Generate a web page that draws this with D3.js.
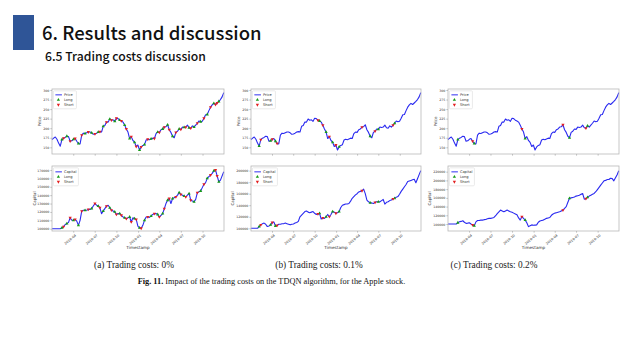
<!DOCTYPE html>
<html>
<head>
<meta charset="utf-8">
<script src="https://cdn.jsdelivr.net/npm/d3@7"></script>
<style>
  body { margin: 0; background: #fff; }
</style>
</head>
<body>
<div id="chart"></div>
<script>
// weekly Apple close, first week 2018-01-01
const price = [
  170,174,177,171,161,153,170,174,176,179,
  178,166,167,171,173,166,160,159,182,187,
  186,188,190,190,188,184,185,187,190,191,
  190,205,207,216,216,224,221,222,218,226,
  225,221,219,216,208,198,190,173,178,168,
  163,152,156,143,151,155,157,169,171,170,
  172,174,173,186,190,189,196,198,203,204,
  209,196,189,179,175,189,192,198,197,203,
  202,203,208,201,200,206,203,208,213,219,
  217,218,226,235,236,246,255,261,265,262,
  266,270,275,282,293
];

// capital, in thousands
const capitalA = [
  100,100,100,100,100,100,101,102.5,105,106,
  107.5,113,110,110,111,109,104,110,121,122,
  122,122,123,123,124,127,130,128,127,125,
  118,121,124,127,128,125,122,121,120,117,
  118,118,116,114,113,112,113,114,108,113,
  112,111,103,101,100.5,104,110,114,114,113.5,
  115,117,118,118,117,114,116,118,124,130,
  134,136,130,136,137,138,140,143,141,140,
  139,138,140,142,134,133,132,135,143,144,
  145,149,153,155,160,162,164,166,169,170,
  163,156,158,163,168
];
const capitalB = [
  100,100,100,100,100,103,106,108,109,107,
  103,104,106,110,111,104,105,107,107,108,
  108,109,108,107,106,107,107.5,109,110,112,
  120,123,126,129,130,128,127,128,129,126,
  124,125,126,116,118,117,120,124,120,124,
  129,128,126,127,129,136,140,141,142,142,
  143,147,152,155,158,160,163,164,165,168,
  160,149,146,144,144,143,145,146,146,146,
  148,150,142,145,146,148,149,151,152,154,
  155,159,164,168,172,176,181,182,183,184,
  185,179,186,193,200
];
const capitalC = [
  100,100,100,100,100,100,103,105,106,107.5,
  104,101.5,102,103,100,98,96,105,108,108,
  109,109,110,110.5,112,113,113,114,115,119,
  124,128,132,130,128,130,132,130,128,127,
  125,123,121,114,109,117,113,109,103,94,
  96,98,97,97.5,98,104,107,108,109,111,
  113,114,115,120,123,125,126,127,128,130,
  132,136,140,150,159,160,161,162,164,165,
  166,168,170,157,158,161,164,166,168,170,
  174,179,184,189,194,199,200,202,202,205,
  204,199,206,213,222
];

// week indices of long / short actions
const longA  = [6,9,13,16,20,24,28,31,35,38,41,44,47,50,53,56,60,64,67,70,73,77,80,83,86,90,94,98,101];
const shortA = [7,11,14,18,22,26,29,33,36,39,42,45,48,51,54,58,62,65,68,71,75,78,81,84,88,92,96,99,100];
const longB  = [5,12,15,42,46,50,54,73,78,88];
const shortB = [6,13,16,41,44,48,52,68,76,87];
const longC  = [6,16,47,74,85];
const shortC = [15,45,70,84];

const xTickLabels = ["2018-04","2018-07","2018-10","2019-01","2019-04","2019-07","2019-10"];
const priceTicks = [150,175,200,225,250,275,300];
const capTicksA = [100000,110000,120000,130000,140000,150000,160000,170000];
const capTicksB = [100000,120000,140000,160000,180000,200000];
const capTicksC = [100000,120000,140000,160000,180000,200000,220000];
const captions = ["(a) Trading costs: 0%", "(b) Trading costs: 0.1%", "(c) Trading costs: 0.2%"];

const W = 640, H = 360;
const svg = d3.select("#chart").append("svg")
  .attr("width", W).attr("height", H)
  .style("font-family", "'Noto Sans CJK KR', 'Noto Sans', sans-serif");

// header
svg.append("rect").attr("x", 13).attr("y", 15).attr("width", 21).attr("height", 35).attr("fill", "#2f5597");
svg.append("text").attr("x", 42).attr("y", 39.5)
  .attr("font-size", 18.5).attr("font-weight", 500).attr("fill", "#111")
  .text("6. Results and discussion");
svg.append("text").attr("x", 45).attr("y", 60.5)
  .attr("font-size", 12.2).attr("font-weight", 500).attr("fill", "#111")
  .text("6.5 Trading costs discussion");

const start = new Date(2018, 0, 1);
const dates = price.map((d, i) => d3.timeDay.offset(start, 7 * i));
const xDomain = [start, new Date(2019, 11, 31)];
const xTickDates = xTickLabels.map(s => d3.timeParse("%Y-%m")(s));

const panels = [
  {x0: 52,  x1: 224, cap: capitalA, long: longA, short: shortA, capTicks: capTicksA, capDomain: [97250, 174800], capLabelDx: 16},
  {x0: 251, x1: 421, cap: capitalB, long: longB, short: shortB, capTicks: capTicksB, capDomain: [95300, 208000], capLabelDx: 17},
  {x0: 448, x1: 619, cap: capitalC, long: longC, short: shortC, capTicks: capTicksC, capDomain: [84000, 233000], capLabelDx: 17}
];

const lineColor = "#2a2af0";
const greenC = "#169a16", redC = "#e32020";
const tickFont = 3.2;

function drawChart(p, top, bottom, values, yDomain, yTicks, yLabel, labelDx, legendName, showX) {
  const x = d3.scaleTime().domain(xDomain).range([p.x0, p.x1]);
  const y = d3.scaleLinear().domain(yDomain).range([bottom, top]);
  const g = svg.append("g");

  // y axis
  const ya = g.append("g").attr("transform", `translate(${p.x0},0)`)
    .call(d3.axisLeft(y).tickValues(yTicks).tickSize(1.6).tickPadding(1).tickFormat(d3.format("d")));
  ya.select(".domain").remove();
  ya.selectAll("line").attr("stroke", "#555").attr("stroke-width", 0.4);
  ya.selectAll("text").attr("font-size", tickFont).attr("fill", "#333").attr("font-family", "'DejaVu Sans', sans-serif");

  // x axis
  const xa = g.append("g").attr("transform", `translate(0,${bottom})`)
    .call(d3.axisBottom(x).tickValues(xTickDates).tickSize(1.6).tickFormat(showX ? d3.timeFormat("%Y-%m") : ""));
  xa.select(".domain").remove();
  xa.selectAll("line").attr("stroke", "#555").attr("stroke-width", 0.4);
  if (showX) {
    xa.selectAll("text")
      .attr("font-size", tickFont + 0.2).attr("fill", "#333").attr("font-family", "'DejaVu Sans', sans-serif")
      .attr("text-anchor", "end")
      .attr("transform", "translate(0,0.5) rotate(-40)")
      .attr("dy", "0.9em").attr("dx", "-0.2em").attr("y", 2);
    g.append("text").attr("x", (p.x0 + p.x1) / 2).attr("y", bottom + 17.5)
      .attr("text-anchor", "middle").attr("font-size", 4.2).attr("fill", "#333")
      .attr("font-family", "'DejaVu Sans', sans-serif").text("Timestamp");
  }

  // y label
  g.append("text")
    .attr("transform", `translate(${p.x0 - labelDx},${(top + bottom) / 2}) rotate(-90)`)
    .attr("text-anchor", "middle").attr("font-size", 4).attr("fill", "#333")
    .attr("font-family", "'DejaVu Sans', sans-serif").text(yLabel);

  // line
  g.append("path").datum(values)
    .attr("fill", "none").attr("stroke", lineColor).attr("stroke-width", 1.1)
    .attr("stroke-linejoin", "round")
    .attr("d", d3.line().x((d, i) => x(dates[i])).y(d => y(d)));

  // markers
  const tri = d3.symbol().type(d3.symbolTriangle).size(4.5);
  g.selectAll(".lg").data(p.long).join("path")
    .attr("d", tri).attr("fill", greenC)
    .attr("transform", i => `translate(${x(dates[i])},${y(values[i])})`);
  g.selectAll(".sh").data(p.short).join("path")
    .attr("d", tri).attr("fill", redC)
    .attr("transform", i => `translate(${x(dates[i])},${y(values[i])}) rotate(180)`);

  // frame
  g.append("rect").attr("x", p.x0).attr("y", top).attr("width", p.x1 - p.x0).attr("height", bottom - top)
    .attr("fill", "none").attr("stroke", "#b8b8b8").attr("stroke-width", 0.8);

  // legend
  const lg = g.append("g").attr("transform", `translate(${p.x0 + 1.4},${top + 1.8})`)
    .attr("font-family", "'DejaVu Sans', sans-serif").attr("font-size", 3.6).attr("fill", "#333");
  lg.append("rect").attr("width", legendName === "Capital" ? 25 : 23).attr("height", 18)
    .attr("rx", 1).attr("fill", "#fff").attr("stroke", "#d4d4d4").attr("stroke-width", 0.5);
  lg.append("line").attr("x1", 2).attr("x2", 8.5).attr("y1", 4).attr("y2", 4)
    .attr("stroke", "#6a6af5").attr("stroke-width", 1.4);
  lg.append("text").attr("x", 10.5).attr("y", 5.3).text(legendName);
  lg.append("path").attr("d", tri).attr("fill", greenC).attr("transform", "translate(5,9)");
  lg.append("text").attr("x", 10.5).attr("y", 10.3).text("Long");
  lg.append("path").attr("d", tri).attr("fill", redC).attr("transform", "translate(5,14) rotate(180)");
  lg.append("text").attr("x", 10.5).attr("y", 15.3).text("Short");
}

panels.forEach((p, k) => {
  drawChart(p, 89, 154, price, [132.5, 302.6], priceTicks, "Price", 11, "Price", false);
  const capVals = p.cap.map(v => v * 1000);
  drawChart(p, 166, 231, capVals, p.capDomain, p.capTicks, "Capital", p.capLabelDx, "Capital", true);
});

// captions
const capX = [134, 319, 494];
captions.forEach((c, k) => {
  svg.append("text").attr("x", capX[k]).attr("y", 268)
    .attr("text-anchor", "middle").attr("font-size", 9.3).attr("fill", "#222")
    .attr("font-family", "'Liberation Serif', serif").text(c);
});
const fig = svg.append("text").attr("x", 271.5).attr("y", 284).attr("text-anchor", "middle")
  .attr("font-size", 8.3).attr("fill", "#111").attr("font-family", "'Liberation Serif', serif");
fig.append("tspan").attr("font-weight", "bold").text("Fig. 11.");
fig.append("tspan").text("  Impact of the trading costs on the TDQN algorithm, for the Apple stock.");
</script>
</body>
</html>
